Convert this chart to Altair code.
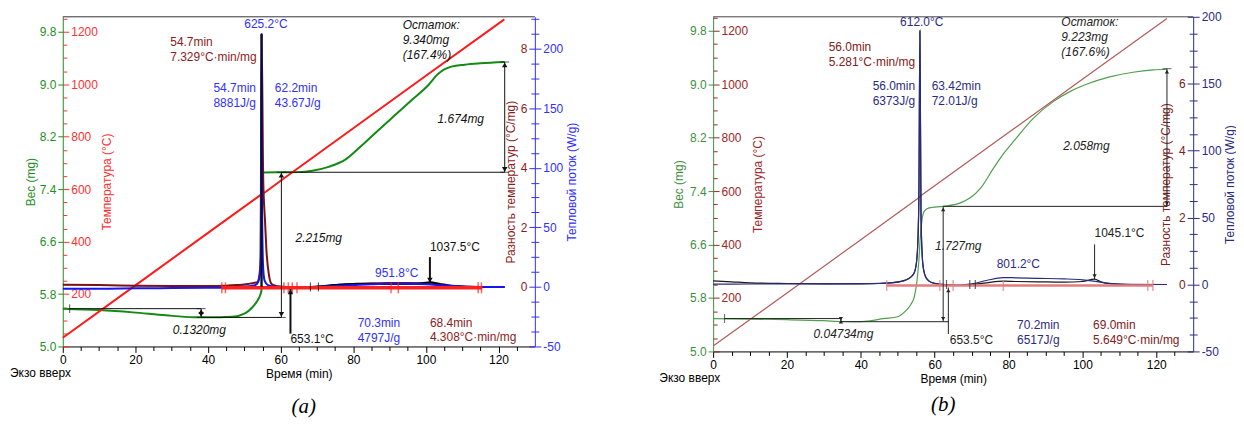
import altair as alt
import pandas as pd

FONT = "Liberation Sans"

# ======================= Panel (a) data =======================
A_W_T = [0, 10, 19.3, 28.4, 36, 40, 46.7, 50.3, 52.1, 53.5, 54.4, 54.7, 54.9, 55.3, 60, 65, 68.7, 73.2,
         77.8, 82.4, 86.9, 91.5, 96.1, 100.7, 103.4, 105.2, 107, 110.7, 115, 121.7]
A_W = [5.577, 5.555, 5.52, 5.475, 5.447, 5.445, 5.455, 5.51, 5.59, 5.69, 5.79, 5.85, 7.60, 7.655, 7.658,
       7.66, 7.68, 7.74, 7.85, 8.07, 8.30, 8.53, 8.76, 8.99, 9.16, 9.23, 9.27, 9.30, 9.32, 9.34]

A_T_T = [0, 20, 40, 54.5, 55.9, 60, 80, 100, 121.6]
A_T = [33, 233, 433, 578, 590, 632, 832, 1032, 1247]

A_H_T = [0, 10, 20, 30, 40, 45, 48, 50, 52, 53, 53.8, 54.3, 54.5, 54.7, 54.9, 55.2, 55.6, 56.5, 58, 60,
         65, 70, 75, 80, 85, 90, 95, 100, 105, 110, 115, 121.7]
A_H = [-1.5, -1.5, -1.2, -1.0, -0.8, -0.5, 0, 0.3, 0.8, 1.5, 4, 10, 25, 212, 60, 15, 5, 1.5, 0.3, 0,
       -0.5, 0, 0.8, 1.5, 2.2, 2.6, 2.6, 2.2, 1.2, 0.4, 0, 0]

A_D_T = [0, 10, 20, 30, 40, 45, 48, 50, 51.5, 52.5, 53.6, 54.2, 54.5, 54.75, 55.2, 55.7, 56.1, 56.8, 57.5,
         58.5, 60, 65, 70, 75, 80, 85, 90, 95, 100, 102, 104, 106, 108, 110, 115, 121.7]
A_D = [0.07, 0.06, 0.04, 0.03, 0.03, 0.04, 0.06, 0.08, 0.11, 0.13, 0.16, 0.45, 1.0, 8.5, 3.6, 2.2, 1.2,
       0.38, 0.1, 0.04, 0.01, -0.02, 0.0, 0.06, 0.1, 0.12, 0.13, 0.13, 0.12, 0.14, 0.1, 0.06, 0.03, 0.01, 0, 0]

A_K_T = [68.2, 70, 72, 75, 78, 81, 85, 90, 95, 99, 101.2, 103, 105, 108, 111]
A_K = [0.0, 0.01, 0.03, 0.06, 0.09, 0.1, 0.1, 0.1, 0.1, 0.12, 0.16, 0.11, 0.06, 0.02, 0.0]

# annotation segments (t1, v1, t2, v2)
A_WSEG = [(1.9, 5.577, 38.1, 5.577), (38.1, 5.443, 60.2, 5.443), (38.1, 5.443, 38.1, 5.577),
          (60.2, 5.443, 60.2, 7.658), (60.2, 7.658, 121.7, 7.658), (121.7, 7.658, 121.7, 9.340)]
A_W_UP = [(38.1, 5.577), (60.2, 7.658), (121.7, 9.340)]
A_W_DOWN = [(38.1, 5.443), (60.2, 5.443), (121.7, 7.658)]
A_W_HT = [(38.1, 5.577), (38.1, 5.443), (60.2, 7.658), (60.2, 5.443), (121.7, 9.340), (121.7, 7.658)]
A_W_VT = [(1.9, 5.577)]
A_DSEG = [(62.7, -1.57, 62.7, -0.07), (101.1, 1.0, 101.1, 0.13), (54.75, 0.0, 54.75, 8.5)]
A_D_UP = [(62.7, -0.07)]
A_D_DOWN = [(101.1, 0.13)]
A_D_VT = [(68.2, 0.0), (70.4, 0.0)]
A_RSEG = [(43.8, -0.8, 115.5, -0.8)]
A_R_VT = [43.8, 44.8, 60.9, 62.1, 63.2, 64.5, 90.4, 92.4, 114.4, 115.3]

A_TEXTS = [
    ("625.2°C", 55.95, 225, "h", "blue", "center", False),
    ("54.7min\n7.329°C·min/mg", 29.6, 8.4, "d", "dred", "left", False),
    ("54.7min\n8881J/g", 53.2, 171, "h", "blue", "right", False),
    ("62.2min\n43.67J/g", 58.4, 171, "h", "blue", "left", False),
    ("Остаток:\n9.340mg\n(167.4%)", 93.6, 9.98, "w", "black", "left", True),
    ("1.674mg", 103.2, 8.54, "w", "black", "left", True),
    ("2.215mg", 64.1, 6.73, "w", "black", "left", True),
    ("0.1320mg", 30.3, 5.334, "w", "black", "left", True),
    ("653.1°C", 62.7, -1.57, "d", "black", "left", False),
    ("1037.5°C", 101.1, 1.5, "d", "black", "left", False),
    ("951.8°C", 86.0, 15.8, "h", "blue", "left", False),
    ("70.3min\n4797J/g", 81.2, -25.8, "h", "blue", "left", False),
    ("68.4min\n4.308°C·min/mg", 101.1, -1.03, "d", "dred", "left", False),
]

# ======================= Panel (b) data =======================
B_W_T = [0, 10, 20, 30, 35, 40, 42.5, 46, 50, 52, 53.5, 54.5, 55.2, 55.7, 56.1, 56.6, 57.2, 58.5, 62.3,
         66.8, 69.6, 72.5, 75.9, 78.5, 81.3, 86.7, 92.1, 96.6, 101.1, 107.4, 113.7, 119.1, 122.9]
B_W = [5.492, 5.485, 5.475, 5.46, 5.448, 5.447, 5.457, 5.49, 5.52, 5.60, 5.70, 5.82, 6.05, 6.35, 6.70,
       6.98, 7.10, 7.15, 7.172, 7.22, 7.30, 7.45, 7.74, 7.95, 8.14, 8.49, 8.74, 8.89, 9.00, 9.11, 9.18,
       9.215, 9.225]

B_T_T = [0, 20, 40, 55.6, 56.6, 60, 80, 100, 122.9]
B_T = [20, 219, 418, 574, 586, 620, 819, 1018, 1246]

B_H_T = [0, 10, 20, 30, 40, 45, 48, 50, 52, 53.5, 54.5, 55.2, 55.7, 56.0, 56.3, 56.8, 57.5, 58.5, 60, 63,
         66, 70, 74, 78.6, 82, 88, 95, 100, 103, 106, 109, 113, 122.9]
B_H = [0.3, 0.4, 0.5, 0.5, 0.6, 0.8, 1.2, 1.8, 3, 5.5, 9, 20, 60, 189, 50, 15, 6, 2.5, 0.8, 0, -0.5, 0.5,
       3, 5.2, 5, 4.6, 4.2, 3.5, 2.5, 1.2, 0.5, 0.1, 0]

B_D_T = [0, 5, 10, 20, 30, 40, 45, 48, 50, 52, 53.5, 54.5, 55.2, 55.7, 56.0, 56.3, 56.8, 57.5, 58.5, 60,
         63, 66, 70, 74, 78.6, 82, 88, 95, 100, 103.3, 105, 108, 112, 122.9]
B_D = [0.11, 0.08, 0.05, 0.03, 0.02, 0.02, 0.03, 0.05, 0.08, 0.13, 0.22, 0.36, 0.8, 2.4, 7.6, 2.0, 0.6,
       0.24, 0.1, 0.03, -0.02, -0.03, 0.0, 0.05, 0.1, 0.09, 0.08, 0.07, 0.09, 0.16, 0.08, 0.02, 0, 0]

B_WSEG = [(3.1, 5.492, 34.6, 5.492), (34.6, 5.445, 63.8, 5.445), (34.6, 5.445, 34.6, 5.492),
          (62.3, 5.445, 62.3, 7.172), (62.3, 7.172, 122.9, 7.172), (122.9, 7.172, 122.9, 9.233)]
B_W_UP = [(34.6, 5.492), (62.3, 7.172), (122.9, 9.233)]
B_W_DOWN = [(34.6, 5.445), (62.3, 5.445), (122.9, 7.172)]
B_W_HT = [(122.9, 9.233)]
B_W_VT = [(3.1, 5.492)]
B_DSEG = [(63.7, -1.48, 63.7, -0.09), (103.3, 1.2, 103.3, 0.16)]
B_D_UP = [(63.7, -0.09)]
B_D_DOWN = [(103.3, 0.16)]
B_D_VT = [(63.2, 0.0), (69.5, 0.0), (71.0, 0.0)]
B_RSEG = [(47.0, -0.8, 119.1, -0.8)]
B_R_VT = [47.0, 61.4, 65.0, 78.6, 117.7, 119.1]

B_TEXTS = [
    ("612.0°C", 56.5, 199.5, "h", "blue", "center", False),
    ("56.0min\n5.281°C·min/mg", 31.3, 7.25, "d", "dred", "left", False),
    ("56.0min\n6373J/g", 54.7, 152, "h", "blue", "right", False),
    ("63.42min\n72.01J/g", 59.2, 152, "h", "blue", "left", False),
    ("Остаток:\n9.223mg\n(167.6%)", 94.3, 10.0, "w", "black", "left", True),
    ("2.058mg", 94.8, 8.15, "w", "black", "left", True),
    ("1.727mg", 60.1, 6.65, "w", "black", "left", True),
    ("0.04734mg", 27.2, 5.335, "w", "black", "left", True),
    ("653.5°C", 64.1, -1.52, "d", "black", "left", False),
    ("801.2°C", 76.8, 19, "h", "blue", "left", False),
    ("1045.1°C", 103.3, 1.69, "d", "black", "left", False),
    ("70.2min\n6517J/g", 82.3, -26.8, "h", "blue", "left", False),
    ("69.0min\n5.649°C·min/mg", 102.9, -1.07, "d", "dred", "left", False),
]

W_TICKS = [5.0, 5.8, 6.6, 7.4, 8.2, 9.0, 9.8]
X_TICKS = list(range(0, 130, 5))


def build(P):
    W, H, C = P["W"], P["H"], P["C"]
    xs = alt.Scale(domain=[0, 130], nice=False, zero=False)

    common = dict(grid=False, labelOverlap=False, labelFlush=False, labelFont=FONT, titleFont=FONT,
                  labelFontSize=12, titleFontSize=12, titleFontWeight="normal")

    # the same x axis definition is given to every layer, so the shared axis merges cleanly
    xaxis = alt.Axis(values=X_TICKS,
                     labelExpr="datum.value % 20 === 0 ? datum.label : ''",
                     tickSize={"condition": {"test": "datum.value % 20 === 0", "value": 6}, "value": 4},
                     title="Время (min)", domainColor="black", tickColor="black", labelColor="black",
                     titleColor="black", labelPadding=2, titlePadding=3, **common)

    def X():
        return alt.X("t:Q", scale=xs, axis=xaxis)

    def Y(key, axis=None):
        # every layer has its own (independent) y scale; layers of one quantity share the same domain
        return alt.Y("v:Q", scale=alt.Scale(domain=P["dom"][key], nice=False, zero=False), axis=axis)

    def curve(t, v, key, color, width, axis=None, interp="monotone"):
        df = pd.DataFrame({"t": t, "v": v})
        return alt.Chart(df).mark_line(color=color, strokeWidth=width, interpolate=interp).encode(
            x=X(), y=Y(key, axis))

    def segs(rows, key, color, width):
        df = pd.DataFrame(rows, columns=["t", "v", "t2", "v2"])
        return alt.Chart(df).mark_rule(color=color, strokeWidth=width).encode(
            x=X(), y=Y(key), x2="t2:Q", y2="v2:Q")

    def heads(rows, key, shape, color, size, yoff):
        df = pd.DataFrame(rows, columns=["t", "v"])
        return alt.Chart(df).mark_point(shape=shape, filled=True, color=color, size=size,
                                        yOffset=yoff, opacity=1, strokeWidth=0).encode(x=X(), y=Y(key))

    def ticks(rows, key, orient, color, size, thick):
        df = pd.DataFrame(rows, columns=["t", "v"])
        return alt.Chart(df).mark_tick(orient=orient, color=color, size=size, thickness=thick).encode(
            x=X(), y=Y(key))

    def texts():
        out = []
        for s, t, v, k, col, al, it in P["texts"]:
            df = pd.DataFrame({"s": [s], "t": [t], "v": [v]})
            mk = dict(align=al, baseline="top", lineBreak="\n", lineHeight=15, font=FONT, fontSize=12,
                      color=C[col])
            if it:
                mk["fontStyle"] = "italic"
            out.append(alt.Chart(df).mark_text(**mk).encode(x=X(), y=Y(k), text="s:N"))
        return out

    waxis = alt.Axis(orient="left", values=W_TICKS, format=".1f", title="Вес (mg)",
                     titleColor=C["green"], labelColor=C["green"], domainColor=C["green"],
                     tickColor=C["green"], tickSize=5, labelPadding=2, titlePadding=P["wpad"], **common)
    taxis = alt.Axis(orient="right", offset=-W, values=list(range(0, 1251, 50)),
                     labelExpr="datum.value % 200 === 0 && datum.value > 0 ? '' + datum.value : ''",
                     tickSize={"condition": {"test": "datum.value % 200 === 0", "value": 6}, "value": 4},
                     domain=False, tickColor=C["red"], labelColor=C["red"], title="Температура (°C)",
                     titleColor=C["red"], titleAngle=270, titleBaseline="top", labelPadding=2,
                     titlePadding=P["tpad"], **common)
    dmax = P["dom"]["d"][1]
    daxis = alt.Axis(orient="left", offset=-W, values=[i * 0.5 for i in range(-4, 19) if i * 0.5 <= dmax],
                     labelExpr="datum.value %% 2 === 0 && datum.value >= 0 && datum.value <= %g ? '' + datum.value : ''" % P["dlab"],
                     tickSize={"condition": {"test": "datum.value % 2 === 0", "value": 6}, "value": 4},
                     domain=False, tickColor=C["blue"], labelColor=C["dred"],
                     title="Разность температур (°C/mg)", titleColor=C["dred"], labelPadding=2,
                     titlePadding=P["dpad"], **common)
    hmax = P["dom"]["h"][1]
    haxis = alt.Axis(orient="right", values=[i * 12.5 for i in range(-4, 19) if i * 12.5 <= hmax],
                     labelExpr="datum.value % 50 === 0 ? '' + datum.value : ''",
                     tickSize={"condition": {"test": "datum.value % 50 === 0", "value": 6}, "value": 4},
                     domainColor=C["blue"], tickColor=C["blue"], labelColor=C["blue"],
                     title="Тепловой поток (W/g)", titleColor=C["blue"], titleAngle=270,
                     titleBaseline="top", labelPadding=2, titlePadding=P["hpad"], **common)

    lw = P["lw"]
    aw = P["aw"]
    blk = C["black"]

    top_rule = alt.Chart(pd.DataFrame({"z": [0]})).mark_rule(color=P["frame"], strokeWidth=1).encode(
        x=alt.value(0), x2=alt.value(W), y=alt.value(0))
    exo = alt.Chart(pd.DataFrame({"s": ["Экзо вверх"]})).mark_text(
        align="left", baseline="middle", font=FONT, fontSize=12, color="black").encode(
        text="s:N", x=alt.value(P["exo_x"]), y=alt.value(H + P["exo_dy"]))
    lab = alt.Chart(pd.DataFrame({"s": [P["label"]]})).mark_text(
        align="center", baseline="middle", font="Liberation Serif", fontStyle="italic", fontSize=21,
        color="black").encode(text="s:N", x=alt.value(P["lab_x"]), y=alt.value(H + P["lab_dy"]))

    layers = [
        curve(P["w_t"], P["w"], "w", C["cw"], lw, axis=waxis),
        curve(P["T_t"], P["T"], "T", C["ct"], lw, axis=taxis, interp="linear"),
        curve(P["d_t"], P["d"], "d", C["cd"], lw, axis=daxis),
    ]
    if P["k_t"]:
        layers.append(curve(P["k_t"], P["k"], "d", C["ck"], lw))
    layers += [
        curve(P["h_t"], P["h"], "h", C["ch"], lw, axis=haxis),
        segs(P["rseg"], "h", C["cr"], P["rw"]),
        ticks([(t, -0.8) for t in P["r_vt"]], "h", "vertical", C["cr"], 11, 1.5),
        segs(P["wseg"], "w", blk, aw),
        heads(P["w_up"], "w", "triangle-up", blk, P["hs"], 3),
        heads(P["w_down"], "w", "triangle-down", blk, P["hs"], -3),
        ticks(P["w_ht"], "w", "horizontal", blk, 9, aw),
        ticks(P["w_vt"], "w", "vertical", blk, 9, aw),
        segs(P["dseg"], "d", blk, P["daw"]),
        heads(P["d_up"], "d", "triangle-up", blk, P["hs"], 3),
        heads(P["d_down"], "d", "triangle-down", blk, P["hs"], -3),
        ticks(P["d_vt"], "d", "vertical", blk, 9, 1.2),
        top_rule, exo, lab,
    ]
    layers += texts()
    return alt.layer(*layers).resolve_scale(y="independent").properties(width=W, height=H)


PA = dict(
    W=474, H=331, label="(a)", lab_x=242, lab_dy=61, exo_x=-53, exo_dy=27,
    dom={"w": [5.0, 10.03], "T": [0, 1257], "d": [-2.0, 9.07], "h": [-50, 226.7]},
    dlab=8, wpad=2, tpad=4, dpad=3, hpad=4, lw=2, aw=1, daw=2, rw=3.5, hs=30, frame="#333333",
    C=dict(green="#1f8f1f", red="#ff3030", dred="#8b1c1c", blue="#3030ff", black="#111111",
           cw="#138a13", ct="#ff1a1a", cd="#7a1212", ch="#1515ee", ck="#000000", cr="#ff2020"),
    w_t=A_W_T, w=A_W, T_t=A_T_T, T=A_T, d_t=A_D_T, d=A_D, h_t=A_H_T, h=A_H, k_t=A_K_T, k=A_K,
    wseg=A_WSEG, w_up=A_W_UP, w_down=A_W_DOWN, w_ht=A_W_HT, w_vt=A_W_VT,
    dseg=A_DSEG, d_up=A_D_UP, d_down=A_D_DOWN, d_vt=A_D_VT, rseg=A_RSEG, r_vt=A_R_VT, texts=A_TEXTS,
)

PB = dict(
    W=482, H=336, label="(b)", lab_x=231, lab_dy=54, exo_x=-54, exo_dy=27,
    dom={"w": [5.0, 10.01], "T": [0, 1252], "d": [-2.0, 8.0], "h": [-50, 200]},
    dlab=6, wpad=4, tpad=5, dpad=6, hpad=3, lw=1.2, aw=1, daw=1, rw=2.5, hs=18, frame="#444444",
    C=dict(green="#3f8f3f", red="#9a2828", dred="#7d2020", blue="#2b2b85", black="#222222",
           cw="#4f9f4f", ct="#b35a5a", cd="#1a1a1a", ch="#2a2a80", ck="#1a1a1a", cr="#e57c7c"),
    w_t=B_W_T, w=B_W, T_t=B_T_T, T=B_T, d_t=B_D_T, d=B_D, h_t=B_H_T, h=B_H, k_t=[], k=[],
    wseg=B_WSEG, w_up=B_W_UP, w_down=B_W_DOWN, w_ht=B_W_HT, w_vt=B_W_VT,
    dseg=B_DSEG, d_up=B_D_UP, d_down=B_D_DOWN, d_vt=B_D_VT, rseg=B_RSEG, r_vt=B_R_VT, texts=B_TEXTS,
)

chart = alt.hconcat(build(PA), build(PB), spacing=81).properties(
    padding={"left": 2, "top": 2, "right": 0, "bottom": 0}
).configure_view(strokeWidth=0)

chart.save("out.html", embed_options={"renderer": "svg", "actions": False})
